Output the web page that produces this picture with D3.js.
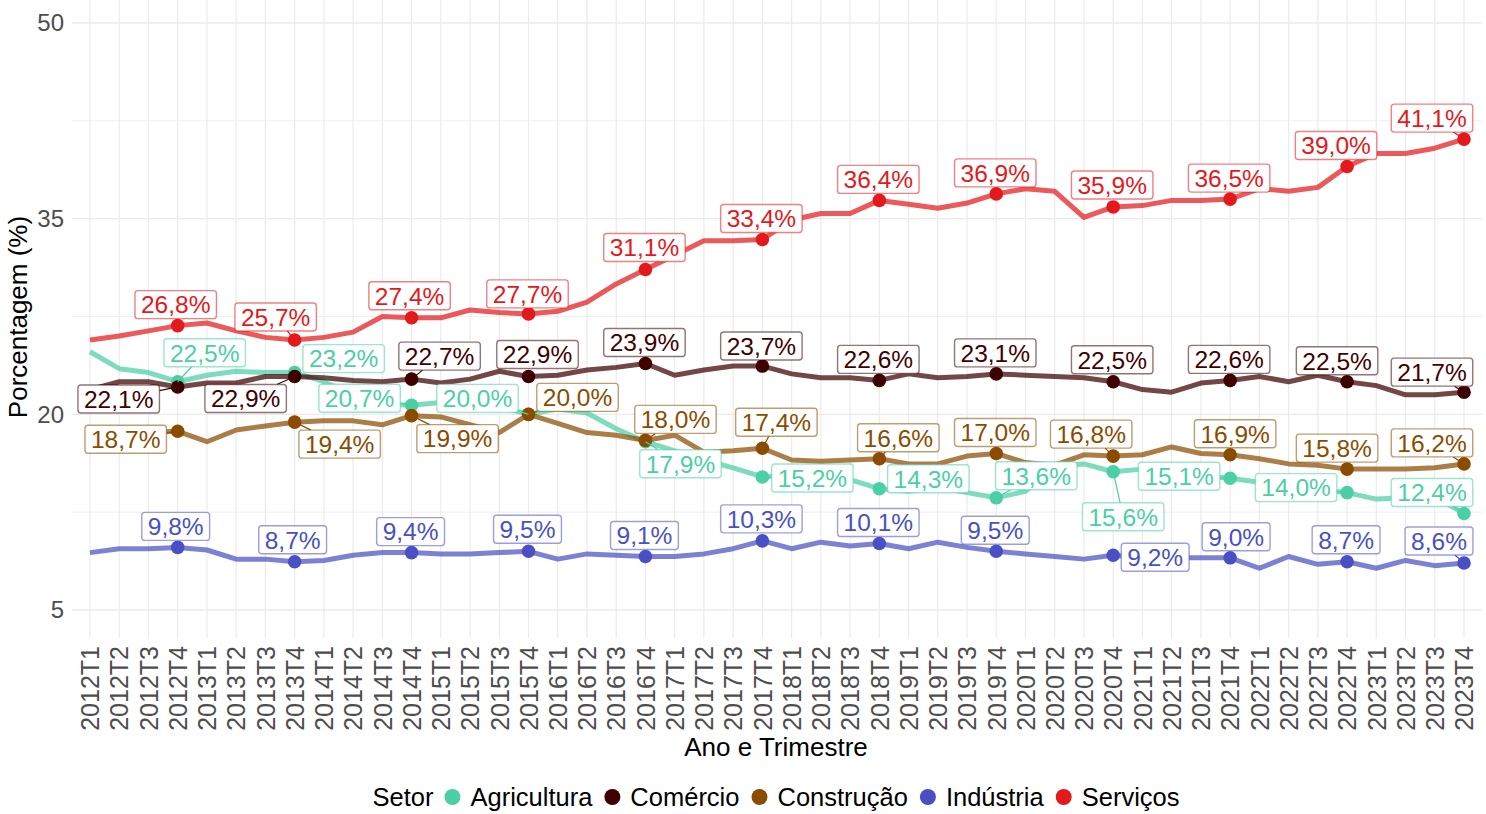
<!DOCTYPE html>
<html>
<head>
<meta charset="utf-8">
<script src="https://cdn.jsdelivr.net/npm/d3@7"></script>
<style>
  html, body { margin: 0; padding: 0; background: #fff; }
  svg { display: block; font-family: "Liberation Sans", Arial, sans-serif; }
</style>
</head>
<body>
<div id="chart"></div>
<script>
// ── Categories ───────────────────────────────────────────────────
const quarters = [
  '2012T1','2012T2','2012T3','2012T4','2013T1','2013T2','2013T3','2013T4',
  '2014T1','2014T2','2014T3','2014T4','2015T1','2015T2','2015T3','2015T4',
  '2016T1','2016T2','2016T3','2016T4','2017T1','2017T2','2017T3','2017T4',
  '2018T1','2018T2','2018T3','2018T4','2019T1','2019T2','2019T3','2019T4',
  '2020T1','2020T2','2020T3','2020T4','2021T1','2021T2','2021T3','2021T4',
  '2022T1','2022T2','2022T3','2022T4','2023T1','2023T2','2023T3','2023T4',
];

const sectors = ['Agricultura', 'Comércio', 'Construção', 'Indústria', 'Serviços'];

// ── Series values (%) ────────────────────────────────────────────
const agricultura = [
  24.8, 23.5, 23.2, 22.5,  23.0, 23.3, 23.2, 23.2,  22.5, 21.5, 20.8, 20.7,
  20.9, 21.0, 20.6, 20.0,  20.4, 20.1, 18.9, 17.9,  17.2, 16.5, 15.9, 15.2,
  15.4, 15.2, 15.0, 14.3,  14.1, 14.4, 14.0, 13.6,  14.1, 16.0, 16.2, 15.6,
  15.8, 15.6, 15.3, 15.1,  14.8, 14.5, 14.2, 14.0,  13.5, 13.6, 13.7, 12.4,
];
const comercio = [
  21.9, 22.5, 22.5, 22.1,  22.4, 22.4, 22.9, 22.9,  22.8, 22.6, 22.5, 22.7,
  22.4, 22.7, 23.3, 22.9,  23.0, 23.4, 23.6, 23.9,  23.0, 23.4, 23.7, 23.7,
  23.1, 22.8, 22.8, 22.6,  23.1, 22.8, 22.9, 23.1,  23.0, 22.9, 22.8, 22.5,
  21.9, 21.7, 22.4, 22.6,  22.9, 22.5, 23.0, 22.5,  22.2, 21.5, 21.5, 21.7,
];
const construcao = [
  18.3, 18.5, 18.6, 18.7,  17.9, 18.8, 19.1, 19.4,  19.5, 19.5, 19.2, 19.9,
  19.8, 19.2, 18.6, 20.0,  19.3, 18.6, 18.4, 18.0,  18.4, 17.1, 17.2, 17.4,
  16.5, 16.4, 16.5, 16.6,  16.2, 16.2, 16.8, 17.0,  16.3, 16.1, 16.9, 16.8,
  16.9, 17.5, 17.0, 16.9,  16.6, 16.2, 16.1, 15.8,  15.8, 15.8, 15.9, 16.2,
];
const industria = [
   9.4,  9.7,  9.7,  9.8,   9.6,  8.9,  8.9,  8.7,   8.8,  9.2,  9.4,  9.4,
   9.3,  9.3,  9.4,  9.5,   8.9,  9.3,  9.2,  9.1,   9.1,  9.3,  9.7, 10.3,
   9.7, 10.2,  9.9, 10.1,   9.7, 10.2,  9.8,  9.5,   9.3,  9.1,  8.9,  9.2,
   9.0,  9.0,  9.0,  9.0,   8.2,  9.1,  8.5,  8.7,   8.2,  8.8,  8.4,  8.6,
];
const servicos = [
  25.7, 26.0, 26.4, 26.8,  27.0, 26.4, 25.9, 25.7,  25.9, 26.3, 27.5, 27.4,
  27.4, 28.0, 27.8, 27.7,  27.9, 28.6, 30.0, 31.1,  32.2, 33.3, 33.3, 33.4,
  34.9, 35.4, 35.4, 36.4,  36.1, 35.8, 36.2, 36.9,  37.3, 37.1, 35.1, 35.9,
  36.0, 36.4, 36.4, 36.5,  37.3, 37.1, 37.4, 39.0,  40.0, 40.0, 40.4, 41.1,
];

// ── Axis ticks ───────────────────────────────────────────────────
const yTicks = [5, 20, 35, 50];
const yMinorTicks = [12.5, 27.5, 42.5];

// ── Styling ──────────────────────────────────────────────────────
const COLORS = {
  'Agricultura': '#4BCFA5',
  'Comércio':    '#3F0000',
  'Construção':  '#8B4C00',
  'Indústria':   '#4A50C4',
  'Serviços':    '#E3191C',
};

// repelled label offsets (px, from each T4 point to its label centre)
const LABEL_OFFSETS = {
  'Agricultura': [[27,-29],[49,-14],[-52,-7],[-51,-16],[35,22],[50,1],[49,-10],[40,-22],[10,45],[-51,-2],[-51,-5],[-32,-21]],
  'Comércio':    [[-59,12],[-49,22],[28,-23],[9,-22],[-1,-21],[-1,-20],[-1,-21],[-1,-21],[-1,-22],[-1,-21],[-10,-21],[-32,-20]],
  'Construção':  [[-52,8],[45,22],[46,23],[49,-17],[30,-21],[14,-26],[19,-21],[-1,-21],[-22,-22],[5,-21],[-10,-21],[-32,-21]],
  'Indústria':   [[-2,-21],[-2,-22],[-1,-21],[-1,-22],[-1,-21],[-1,-22],[-1,-21],[-1,-21],[42,2],[6,-21],[-1,-22],[-25,-22]],
  'Serviços':    [[-2,-21],[-19,-23],[-2,-22],[-1,-20],[-1,-22],[-1,-21],[-1,-21],[-1,-21],[-1,-22],[-1,-21],[-11,-21],[-32,-21]],
};

const W = 1486, H = 814;
const PANEL = { left: 72, right: 1482, top: 0, bottom: 638 };

const seriesValues = {
  'Agricultura': agricultura,
  'Comércio':    comercio,
  'Construção':  construcao,
  'Indústria':   industria,
  'Serviços':    servicos,
};

const series = sectors.map(name => ({
  name,
  values: seriesValues[name].map((v, i) => ({ q: quarters[i], v })),
}));

const ptBR = d3.formatLocale({ decimal: ',', thousands: '.', grouping: [3], currency: ['R$', ''] });
const fmtPct = v => ptBR.format('.1f')(v) + '%';

// ── Scales ───────────────────────────────────────────────────────
const x = d3.scalePoint().domain(quarters).range([90, 1464]);
const y = d3.scaleLinear().domain([5, 50]).range([610, 23]);

const svg = d3.select('#chart').append('svg')
  .attr('width', W).attr('height', H)
  .attr('viewBox', `0 0 ${W} ${H}`);

svg.append('rect').attr('width', W).attr('height', H).attr('fill', '#fff');

// ── Grid ─────────────────────────────────────────────────────────
const grid = svg.append('g');
grid.selectAll('line.minor').data(yMinorTicks).join('line')
  .attr('x1', PANEL.left).attr('x2', PANEL.right)
  .attr('y1', d => y(d)).attr('y2', d => y(d))
  .attr('stroke', '#ebebeb').attr('stroke-width', 0.8);
grid.selectAll('line.vx').data(quarters).join('line')
  .attr('x1', d => x(d)).attr('x2', d => x(d))
  .attr('y1', PANEL.top).attr('y2', PANEL.bottom)
  .attr('stroke', '#ebebeb').attr('stroke-width', 1.2);
grid.selectAll('line.major').data(yTicks).join('line')
  .attr('x1', PANEL.left).attr('x2', PANEL.right)
  .attr('y1', d => y(d)).attr('y2', d => y(d))
  .attr('stroke', '#ebebeb').attr('stroke-width', 1.4);

// ── Axes text ────────────────────────────────────────────────────
const yAxis = d3.axisLeft(y).tickValues(yTicks).tickSize(0).tickPadding(8);
svg.append('g').attr('transform', `translate(${PANEL.left},0)`).call(yAxis)
  .call(g => g.select('.domain').remove())
  .call(g => g.selectAll('text')
    .attr('font-size', 24).attr('fill', '#4d4d4d')
    .attr('font-family', '"Liberation Sans", Arial, sans-serif'));

const xAxis = d3.axisBottom(x).tickSize(0).tickPadding(0);
svg.append('g').attr('transform', `translate(0,${PANEL.bottom + 8})`).call(xAxis)
  .call(g => g.select('.domain').remove())
  .call(g => g.selectAll('text')
    .attr('font-size', 25).attr('fill', '#4d4d4d')
    .attr('font-family', '"Liberation Sans", Arial, sans-serif')
    .attr('text-anchor', 'end')
    .attr('transform', 'rotate(-90)')
    .attr('x', 0).attr('y', 0).attr('dy', '0.35em'));

svg.append('text')
  .attr('x', 776).attr('y', 756)
  .attr('text-anchor', 'middle')
  .attr('font-size', 26).attr('fill', '#000')
  .text('Ano e Trimestre');

svg.append('text')
  .attr('transform', 'translate(27,317) rotate(-90)')
  .attr('text-anchor', 'middle')
  .attr('font-size', 26).attr('fill', '#000')
  .text('Porcentagem (%)');

// ── Lines ────────────────────────────────────────────────────────
const line = d3.line().x(d => x(d.q)).y(d => y(d.v));

svg.append('g').selectAll('path').data(series).join('path')
  .attr('d', d => line(d.values))
  .attr('fill', 'none')
  .attr('stroke', d => COLORS[d.name])
  .attr('stroke-opacity', 0.72)
  .attr('stroke-width', 5)
  .attr('stroke-linejoin', 'round');

// ── Points on T4 ────────────────────────────────────────────────
const labelled = series.map(s => ({
  name: s.name,
  pts: s.values.filter(d => d.q.endsWith('T4')),
}));

svg.append('g').selectAll('g').data(labelled).join('g')
  .attr('fill', d => COLORS[d.name])
  .selectAll('circle').data(d => d.pts).join('circle')
  .attr('cx', d => x(d.q)).attr('cy', d => y(d.v)).attr('r', 6.8);

// ── Repelled labels ─────────────────────────────────────────────
const labelLayer = svg.append('g').attr('font-size', 24.5);
labelled.forEach(s => {
  const col = COLORS[s.name];
  s.pts.forEach((d, i) => {
    const [dx, dy] = LABEL_OFFSETS[s.name][i];
    const px = x(d.q), py = y(d.v);
    const cx = px + dx, cy = py + dy;
    const g = labelLayer.append('g');
    const t = g.append('text')
      .attr('x', cx).attr('y', cy).attr('dy', '0.36em')
      .attr('text-anchor', 'middle')
      .attr('fill', col)
      .text(fmtPct(d.v));
    const tw = t.node().getComputedTextLength();
    const bw = tw + 12, bh = 28;
    const x0 = cx - bw / 2, y0 = cy - bh / 2;

    // segment from point to box edge (towards label centre)
    const vx = cx - px, vy = cy - py;
    const tx = vx === 0 ? Infinity : Math.abs((bw / 2) / vx);
    const ty = vy === 0 ? Infinity : Math.abs((bh / 2) / vy);
    const k = 1 - Math.min(tx, ty, 1);
    const ex = px + vx * k, ey = py + vy * k;
    if (Math.hypot(ex - px, ey - py) > 9) {
      g.insert('line', 'text')
        .attr('x1', px).attr('y1', py).attr('x2', ex).attr('y2', ey)
        .attr('stroke', col).attr('stroke-width', 1.2);
    }
    g.insert('rect', 'text')
      .attr('x', x0).attr('y', y0).attr('width', bw).attr('height', bh)
      .attr('rx', 3).attr('fill', '#fff')
      .attr('stroke', col).attr('stroke-opacity', 0.55).attr('stroke-width', 1.4);
  });
});

// ── Legend ──────────────────────────────────────────────────────
const legend = svg.append('g').attr('font-size', 25.5);
let cursor = 0;
const title = legend.append('text').attr('x', 0).attr('y', 797).attr('dy', '0.35em')
  .attr('fill', '#000').text('Setor');
cursor += title.node().getComputedTextLength() + 19;
sectors.forEach(name => {
  legend.append('circle').attr('cx', cursor).attr('cy', 797).attr('r', 8)
    .attr('fill', COLORS[name]);
  const t = legend.append('text').attr('x', cursor + 18).attr('y', 797).attr('dy', '0.35em')
    .attr('fill', '#000').text(name);
  cursor += 18 + t.node().getComputedTextLength() + 20;
});
cursor -= 20;
legend.attr('transform', `translate(${776 - cursor / 2},0)`);
</script>
</body>
</html>
